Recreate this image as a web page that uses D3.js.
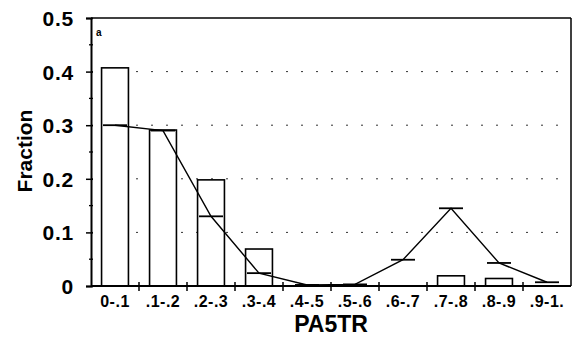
<!DOCTYPE html>
<html>
<head>
<meta charset="utf-8">
<script src="https://cdn.jsdelivr.net/npm/d3@7"></script>
<style>
  body { margin: 0; background: #fff; }
  text { font-family: "Liberation Sans", Arial, sans-serif; font-weight: bold; fill: #000; }
</style>
</head>
<body>
<div id="chart"></div>
<script>
// data
const categories = ["0-.1", ".1-.2", ".2-.3", ".3-.4", ".4-.5", ".5-.6", ".6-.7", ".7-.8", ".8-.9", ".9-1."];
const barValues = [0.407, 0.291, 0.198, 0.069, 0, 0, 0, 0.019, 0.014, 0];
const curveValues = [0.30, 0.29, 0.13, 0.024, 0.002, 0.003, 0.049, 0.145, 0.043, 0.007];
const yTicks = [0, 0.1, 0.2, 0.3, 0.4, 0.5];
const yTickLabels = ["0", "0.1", "0.2", "0.3", "0.4", "0.5"];
const yMinor = [0.05, 0.15, 0.25, 0.35, 0.45];
const gridValues = [0.1, 0.2, 0.3, 0.4];

const W = 573, H = 340;
const plotLeft = 91, plotRight = 571, plotTop = 18, plotBottom = 286;

const svg = d3.select("#chart")
    .append("svg")
    .attr("width", W)
    .attr("height", H);

const x = d3.scaleBand()
    .domain(categories)
    .range([plotLeft, plotRight])
    .paddingInner(0.44)
    .paddingOuter(0.22);

const y = d3.scaleLinear()
    .domain([0, 0.5])
    .range([plotBottom, plotTop]);

// dotted gridlines (sparse, like the scanned original)
svg.selectAll("line.grid")
    .data(gridValues)
    .enter()
    .append("line")
    .attr("class", "grid")
    .attr("x1", plotLeft)
    .attr("x2", plotRight)
    .attr("y1", d => y(d))
    .attr("y2", d => y(d))
    .style("stroke", "#333")
    .style("stroke-width", 1)
    .style("stroke-dasharray", "2,13");

// bars
svg.selectAll("rect.bar")
    .data(barValues)
    .enter()
    .append("rect")
    .attr("class", "bar")
    .attr("x", (d, i) => x(categories[i]))
    .attr("y", d => y(d))
    .attr("width", x.bandwidth())
    .attr("height", d => plotBottom - y(d))
    .style("fill", "#fff")
    .style("stroke", "#000")
    .style("stroke-width", 1.6);

// curve through bin centres
const line = d3.line()
    .x((d, i) => x(categories[i]) + x.bandwidth() / 2)
    .y(d => y(d));

svg.append("path")
    .datum(curveValues)
    .attr("fill", "none")
    .attr("stroke", "#000")
    .attr("stroke-width", 1.4)
    .attr("d", line);

// horizontal markers at each curve point
const mw = 24;
svg.selectAll("line.marker")
    .data(curveValues)
    .enter()
    .append("line")
    .attr("class", "marker")
    .attr("x1", (d, i) => x(categories[i]) + x.bandwidth() / 2 - mw / 2)
    .attr("x2", (d, i) => x(categories[i]) + x.bandwidth() / 2 + mw / 2)
    .attr("y1", d => y(d))
    .attr("y2", d => y(d))
    .style("stroke", "#000")
    .style("stroke-width", 1.8);

// frame: top and right
svg.append("line")
    .attr("x1", plotLeft).attr("x2", plotRight)
    .attr("y1", plotTop).attr("y2", plotTop)
    .style("stroke", "#000").style("stroke-width", 1.5);
svg.append("line")
    .attr("x1", plotRight).attr("x2", plotRight)
    .attr("y1", plotTop).attr("y2", plotBottom)
    .style("stroke", "#000").style("stroke-width", 1.5);

// Y axis
const yAxis = svg.append("g")
    .attr("transform", "translate(" + plotLeft + ",0)")
    .call(d3.axisLeft(y).tickValues(yTicks).tickSize(5).tickPadding(12)
        .tickFormat((d, i) => yTickLabels[i]));
yAxis.select(".domain").attr("stroke-width", 2);
yAxis.selectAll(".tick line").attr("x1", 2).attr("stroke-width", 1.5);
yAxis.selectAll(".tick text")
    .style("font-size", "21px")
    .style("letter-spacing", "0.8px")
    .attr("dy", "0.36em");

svg.selectAll("line.yminor")
    .data(yMinor)
    .enter()
    .append("line")
    .attr("class", "yminor")
    .attr("x1", plotLeft - 2)
    .attr("x2", plotLeft + 2)
    .attr("y1", d => y(d))
    .attr("y2", d => y(d))
    .style("stroke", "#000")
    .style("stroke-width", 1.3);

// X axis
svg.append("line")
    .attr("x1", plotLeft).attr("x2", plotRight)
    .attr("y1", plotBottom).attr("y2", plotBottom)
    .style("stroke", "#000").style("stroke-width", 2);

const bounds = d3.range(1, categories.length).map(i => x(categories[i]) - x.step() * x.paddingInner() / 2);
svg.selectAll("line.xtick")
    .data(bounds)
    .enter()
    .append("line")
    .attr("class", "xtick")
    .attr("x1", d => d).attr("x2", d => d)
    .attr("y1", plotBottom - 4).attr("y2", plotBottom + 5)
    .style("stroke", "#000").style("stroke-width", 1.5);

svg.selectAll("text.xlab")
    .data(categories)
    .enter()
    .append("text")
    .attr("class", "xlab")
    .attr("x", d => x(d) + x.bandwidth() / 2)
    .attr("y", 307)
    .attr("text-anchor", "middle")
    .style("font-size", "16px")
    .style("letter-spacing", "0.5px")
    .text(d => d);

// titles
svg.append("text")
    .attr("x", (plotLeft + plotRight) / 2)
    .attr("y", 332)
    .attr("text-anchor", "middle")
    .style("font-size", "23px")
    .text("PA5TR");

svg.append("text")
    .attr("transform", "translate(32,151) rotate(-90)")
    .attr("text-anchor", "middle")
    .style("font-size", "21px")
    .text("Fraction");

svg.append("text")
    .attr("x", 96)
    .attr("y", 36)
    .style("font-size", "10px")
    .text("a");
</script>
</body>
</html>
